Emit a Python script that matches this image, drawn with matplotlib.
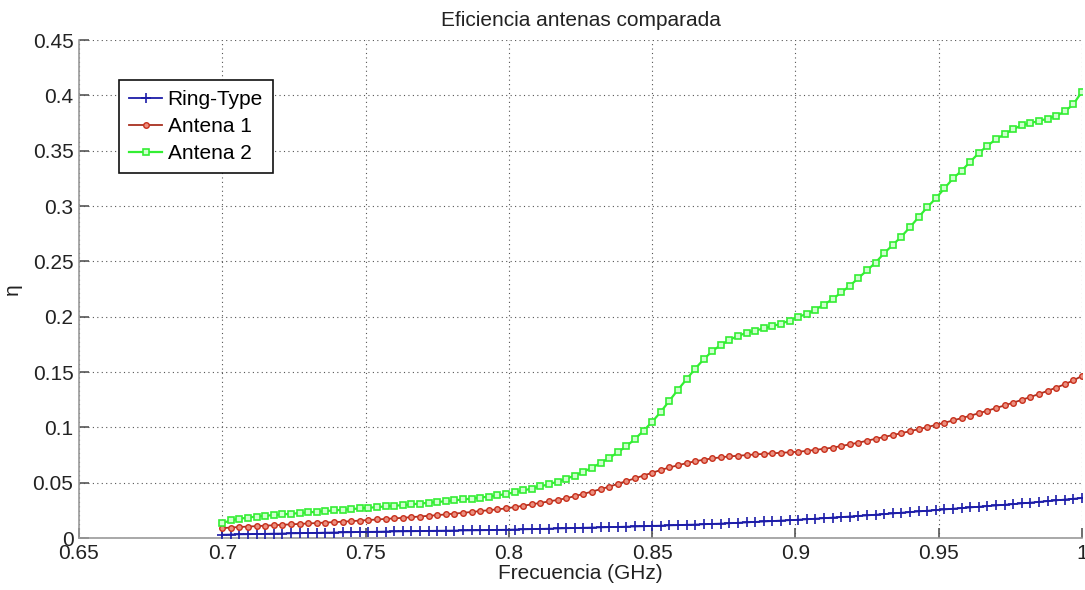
import numpy as np
import matplotlib
matplotlib.use("Agg")
import matplotlib.pyplot as plt

# Frequency sweep, 0.7 GHz to 1.0 GHz in 3 MHz steps
freq_ghz = np.linspace(0.7, 1.0, 101)

ring_type = [
    0.0030, 0.0032, 0.0034, 0.0035, 0.0037, 0.0038, 0.0040, 0.0041, 0.0043, 0.0044,
    0.0046, 0.0047, 0.0049, 0.0050, 0.0052, 0.0053, 0.0055, 0.0056, 0.0057, 0.0059,
    0.0060, 0.0061, 0.0062, 0.0063, 0.0065, 0.0066, 0.0067, 0.0068, 0.0069, 0.0070,
    0.0071, 0.0072, 0.0074, 0.0075, 0.0077, 0.0079, 0.0081, 0.0083, 0.0085, 0.0087,
    0.0089, 0.0091, 0.0093, 0.0095, 0.0097, 0.0099, 0.0101, 0.0103, 0.0105, 0.0107,
    0.0110, 0.0112, 0.0115, 0.0117, 0.0120, 0.0122, 0.0125, 0.0128, 0.0131, 0.0134,
    0.0138, 0.0142, 0.0146, 0.0150, 0.0154, 0.0158, 0.0162, 0.0166, 0.0170, 0.0175,
    0.0180, 0.0185, 0.0190, 0.0195, 0.0200, 0.0205, 0.0211, 0.0217, 0.0223, 0.0229,
    0.0235, 0.0241, 0.0247, 0.0253, 0.0259, 0.0265, 0.0271, 0.0277, 0.0283, 0.0289,
    0.0295, 0.0301, 0.0307, 0.0314, 0.0320, 0.0327, 0.0334, 0.0341, 0.0348, 0.0355,
    0.0362,
]

antena_1 = [
    0.0090, 0.0095, 0.0100, 0.0104, 0.0108, 0.0112, 0.0116, 0.0120, 0.0124, 0.0128,
    0.0132, 0.0136, 0.0140, 0.0144, 0.0148, 0.0153, 0.0158, 0.0163, 0.0168, 0.0173,
    0.0178, 0.0183, 0.0189, 0.0195, 0.0201, 0.0207, 0.0214, 0.0221, 0.0228, 0.0236,
    0.0244, 0.0252, 0.0260, 0.0268, 0.0280, 0.0292, 0.0305, 0.0318, 0.0331, 0.0345,
    0.0359, 0.0379, 0.0399, 0.0420, 0.0442, 0.0464, 0.0490, 0.0515, 0.0540, 0.0565,
    0.0590, 0.0615, 0.0638, 0.0658, 0.0677, 0.0694, 0.0708, 0.0720, 0.0730, 0.0738,
    0.0744, 0.0750, 0.0756, 0.0761, 0.0766, 0.0771, 0.0775, 0.0780, 0.0788, 0.0797,
    0.0807, 0.0817, 0.0832, 0.0847, 0.0862, 0.0880, 0.0897, 0.0914, 0.0931, 0.0948,
    0.0966, 0.0984, 0.1003, 0.1022, 0.1042, 0.1063, 0.1084, 0.1106, 0.1128, 0.1151,
    0.1175, 0.1199, 0.1224, 0.1249, 0.1275, 0.1302, 0.1330, 0.1360, 0.1390, 0.1425,
    0.1465,
]

antena_2 = [
    0.0135, 0.0160, 0.0175, 0.0185, 0.0195, 0.0202, 0.0208, 0.0214, 0.0220, 0.0226,
    0.0232, 0.0238, 0.0244, 0.0250, 0.0256, 0.0262, 0.0268, 0.0274, 0.0280, 0.0286,
    0.0292, 0.0298, 0.0305, 0.0312, 0.0319, 0.0326, 0.0333, 0.0341, 0.0349, 0.0357,
    0.0366, 0.0375, 0.0385, 0.0398, 0.0413, 0.0430, 0.0448, 0.0467, 0.0487, 0.0510,
    0.0536, 0.0565, 0.0598, 0.0636, 0.0678, 0.0724, 0.0774, 0.0830, 0.0895, 0.0970,
    0.1050, 0.1140, 0.1240, 0.1340, 0.1435, 0.1530, 0.1615, 0.1690, 0.1745, 0.1790,
    0.1828, 0.1855, 0.1875, 0.1895, 0.1915, 0.1938, 0.1965, 0.2000, 0.2025, 0.2065,
    0.2110, 0.2160, 0.2220, 0.2280, 0.2350, 0.2420, 0.2490, 0.2575, 0.2650, 0.2725,
    0.2810, 0.2900, 0.2990, 0.3070, 0.3160, 0.3250, 0.3320, 0.3400, 0.3480, 0.3545,
    0.3605, 0.3650, 0.3695, 0.3730, 0.3750, 0.3770, 0.3790, 0.3815, 0.3855, 0.3920,
    0.4035,
]

series_labels = ["Ring-Type", "Antena 1", "Antena 2"]
x_ticks = [0.65, 0.7, 0.75, 0.8, 0.85, 0.9, 0.95, 1.0]
x_tick_labels = ["0.65", "0.7", "0.75", "0.8", "0.85", "0.9", "0.95", "1"]
y_ticks = [0, 0.05, 0.1, 0.15, 0.2, 0.25, 0.3, 0.35, 0.4, 0.45]
y_tick_labels = ["0", "0.05", "0.1", "0.15", "0.2", "0.25", "0.3", "0.35", "0.4", "0.45"]

plt.rcParams["font.family"] = ["Liberation Sans", "DejaVu Sans"]

fig = plt.figure(figsize=(10.85, 5.9), dpi=100)
ax = fig.add_axes([0.0728, 0.088, 0.9244, 0.844])

ax.plot(freq_ghz, ring_type, color="#1c1ca8", lw=1.3, marker="+",
        ms=7, mew=1.2, label=series_labels[0], zorder=3)
ax.plot(freq_ghz, antena_1, color="#a83020", lw=1.3, marker="o",
        ms=4.0, mew=1.0, mec="#c8301c", mfc="#ec9080", label=series_labels[1], zorder=4)
ax.plot(freq_ghz, antena_2, color="#33ee33", lw=1.6, marker="s",
        ms=4.6, mew=1.2, mec="#33ee33", mfc="#d0ffd0", label=series_labels[2], zorder=5)

ax.set_xlim(0.65, 1.0)
ax.set_ylim(0, 0.45)
ax.set_xticks(x_ticks)
ax.set_xticklabels(x_tick_labels)
ax.set_yticks(y_ticks)
ax.set_yticklabels(y_tick_labels)

ax.grid(True, linestyle=(0, (1, 3)), color="#555555", lw=0.8)
ax.set_axisbelow(True)

for side in ("top", "right"):
    ax.spines[side].set_visible(False)
for side in ("left", "bottom"):
    ax.spines[side].set_color("#9a9a9a")
    ax.spines[side].set_linewidth(1.2)

ax.tick_params(direction="in", length=7, width=1.2, color="#555555",
               labelsize=15, labelcolor="#222222", pad=4)

ax.set_title("Eficiencia antenas comparada", fontsize=15, color="#222222", pad=10)
ax.set_xlabel("Frecuencia (GHz)", fontsize=15, color="#222222", labelpad=1)
ax.set_ylabel("η", fontsize=15, color="#222222", labelpad=8)

leg = ax.legend(loc="upper left", bbox_to_anchor=(0.04, 0.92), borderaxespad=0,
                fontsize=15, frameon=True, fancybox=False, handlelength=1.6,
                handletextpad=0.25, borderpad=0.48, labelspacing=0.39)
leg.get_frame().set_edgecolor("#111111")
leg.get_frame().set_linewidth(1.2)
leg.get_frame().set_alpha(1.0)

fig.savefig("out.png", dpi=100)
